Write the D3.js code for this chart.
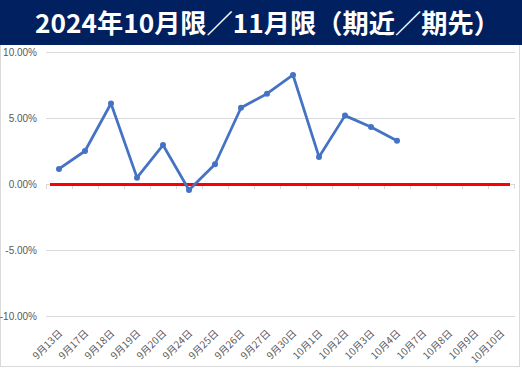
<!DOCTYPE html>
<html><head><meta charset="utf-8">
<script src="https://cdn.jsdelivr.net/npm/d3@7"></script>
<style>body{margin:0;background:#fff}svg{display:block}</style>
</head><body><svg id="c" width="522" height="369"></svg>
<script>
const titleText = "2024年10月限／11月限（期近／期先）";
const categories = ["9月13日","9月17日","9月18日","9月19日","9月20日","9月24日","9月25日","9月26日","9月27日","9月30日","10月1日","10月2日","10月3日","10月4日","10月7日","10月8日","10月9日","10月10日"];
const spreadValues = [1.14, 2.5, 6.1, 0.48, 2.95, -0.45, 1.5, 5.78, 6.84, 8.26, 2.05, 5.18, 4.32, 3.28, null, null, null, null];
const baselineValues = categories.map(() => 0);
const yTicks = [10, 5, 0, -5, -10];

const svg = d3.select("#c");
const W = 522, H = 369;
svg.append("rect").attr("x",0).attr("y",0).attr("width",W).attr("height",H).attr("fill","#fff");
// border
svg.append("rect").attr("x",0.5).attr("y",0.5).attr("width",519).attr("height",366).attr("fill","none").attr("stroke","#d9d9d9");
// title band
svg.append("rect").attr("x",0).attr("y",0).attr("width",W).attr("height",45).attr("fill","#002060");
svg.append("text").attr("x",267.5).attr("y",33).attr("text-anchor","middle")
  .attr("fill","#fff").attr("font-family","'Noto Sans CJK JP', sans-serif").attr("font-weight","bold")
  .attr("font-size",26).attr("textLength",465).attr("lengthAdjust","spacingAndGlyphs").text(titleText);

const left = 46, right = 514;
const x = d3.scaleBand().domain(categories).range([left, right]);
const y = d3.scaleLinear().domain([-10, 10]).range([316, 52]);

// grid
svg.append("g").selectAll("line").data(yTicks.filter(d=>d!==0)).join("line")
  .attr("x1", left).attr("x2", right+1).attr("y1", d=>y(d)+0.5).attr("y2", d=>y(d)+0.5)
  .attr("stroke","#d9d9d9").attr("stroke-width",1);

// y labels
svg.append("g").selectAll("text").data(yTicks).join("text")
  .attr("x", 37).attr("y", d=>y(d)+3.5).attr("text-anchor","end")
  .attr("font-family","'Liberation Sans', Arial, sans-serif").attr("font-size",10).attr("fill","#595959")
  .text(d=>d.toFixed(2)+"%");

// category axis at 0
const y0 = y(0);
svg.append("line").attr("x1",left).attr("x2",right+1).attr("y1",y0+0.5).attr("y2",y0+0.5).attr("stroke","#d9d9d9");
const bounds = categories.map(c=>x(c)).concat([right]);
svg.append("g").selectAll("line").data(bounds).join("line")
  .attr("x1",d=>Math.round(d)+0.5).attr("x2",d=>Math.round(d)+0.5).attr("y1",y0).attr("y2",y0+5).attr("stroke","#d9d9d9");

// x labels rotated
svg.append("g").selectAll("text").data(categories).join("text")
  .attr("transform", d=>`translate(${x(d)+x.bandwidth()/2+4},${334}) rotate(-45)`)
  .attr("text-anchor","end")
  .attr("font-family","'Noto Sans CJK JP', sans-serif").attr("font-size",10).attr("fill","#595959")
  .text(d=>d);

// red baseline
svg.append("line").attr("x1", left+4).attr("x2", right-4).attr("y1", y(baselineValues[0])+0.5).attr("y2", y(baselineValues[0])+0.5)
  .attr("stroke","#ff0000").attr("stroke-width",3);

// spread line
const pts = categories.map((c,i)=>({c, v: spreadValues[i]})).filter(d=>d.v!==null);
const line = d3.line().x(d=>x(d.c)+x.bandwidth()/2).y(d=>y(d.v));
svg.append("path").datum(pts).attr("d", line).attr("fill","none").attr("stroke","#4472c4").attr("stroke-width",2.75).attr("stroke-linejoin","round");
svg.append("g").selectAll("circle").data(pts).join("circle")
  .attr("cx", d=>x(d.c)+x.bandwidth()/2).attr("cy", d=>y(d.v)).attr("r",3).attr("fill","#4472c4");
</script></body></html>
